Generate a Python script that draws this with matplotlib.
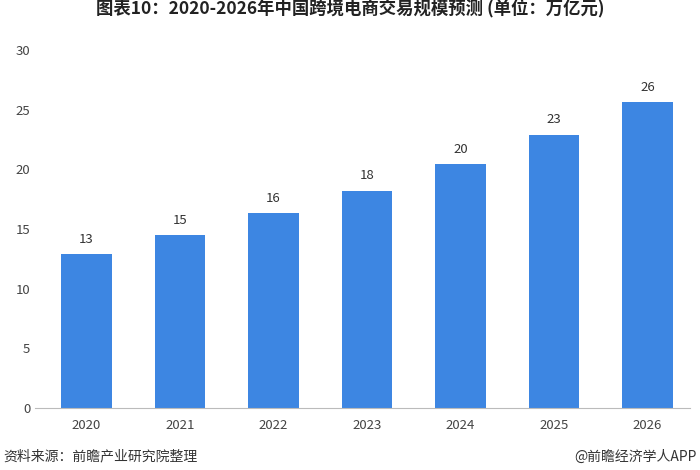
import matplotlib
matplotlib.use('Agg')
import matplotlib.pyplot as plt

plt.rcParams['font.family'] = ['Noto Sans CJK SC', 'DejaVu Sans']

years = ['2020', '2021', '2022', '2023', '2024', '2025', '2026']
values = [12.9, 14.5, 16.3, 18.2, 20.4, 22.9, 25.6]
labels = ['13', '15', '16', '18', '20', '23', '26']

fig = plt.figure(figsize=(7, 4.7), dpi=100)
ax = fig.add_axes([0.05, 0.132, 0.935, 0.762])

bars = ax.bar(years, values, width=0.54, color='#3d86e2')
for b, lab in zip(bars, labels):
    ax.text(b.get_x() + b.get_width() / 2, b.get_height() + 0.7, lab,
            ha='center', va='bottom', fontsize=9.5, color='#333333')

ax.set_ylim(0, 30)
ax.set_yticks(range(0, 31, 5))
ax.set_xlim(-0.55, 6.45)
ax.tick_params(axis='both', length=0, labelsize=9.5, colors='#444444')
ax.tick_params(axis='x', pad=8)
for s in ['top', 'right', 'left']:
    ax.spines[s].set_visible(False)
ax.spines['bottom'].set_color('#bbbbbb')

fig.text(0.5, 0.982, '图表10：2020-2026年中国跨境电商交易规模预测 (单位：万亿元)',
         ha='center', va='center', fontsize=12.5, fontweight='bold', color='#222222')
fig.text(0.005, 0.02, '资料来源：前瞻产业研究院整理', fontsize=10, color='#333333')
fig.text(0.995, 0.02, '@前瞻经济学人APP', ha='right', fontsize=10, color='#333333')

fig.savefig('out.png')
